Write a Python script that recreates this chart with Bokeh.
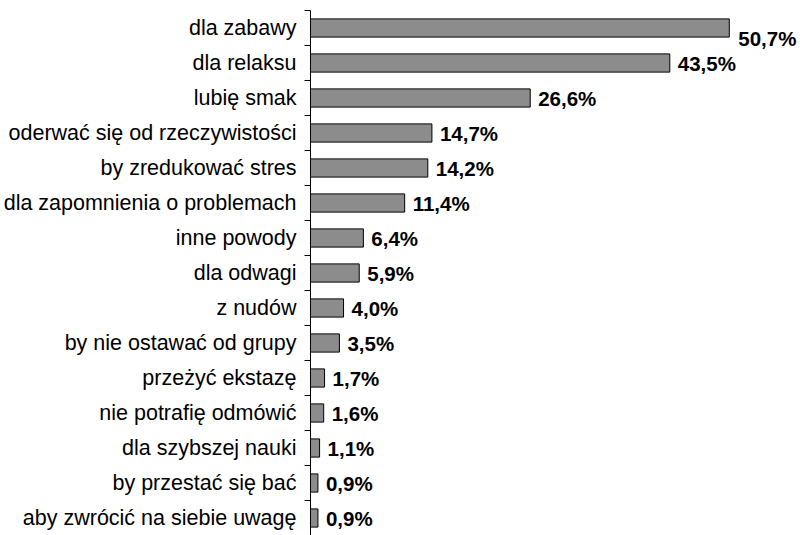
from bokeh.plotting import figure
from bokeh.models import ColumnDataSource, Range1d, FixedTicker
from bokeh.core.properties import value
from bokeh.embed import file_html
from bokeh.resources import INLINE

categories = [
    "dla zabawy",
    "dla relaksu",
    "lubię smak",
    "oderwać się od rzeczywistości",
    "by zredukować stres",
    "dla zapomnienia o problemach",
    "inne powody",
    "dla odwagi",
    "z nudów",
    "by nie ostawać od grupy",
    "przeżyć ekstazę",
    "nie potrafię odmówić",
    "dla szybszej nauki",
    "by przestać się bać",
    "aby zwrócić na siebie uwagę",
]
percent = [50.7, 43.5, 26.6, 14.7, 14.2, 11.4, 6.4, 5.9, 4.0, 3.5, 1.7, 1.6, 1.1, 0.9, 0.9]

n = len(categories)
ys = [i + 0.5 for i in range(n)]
labels = [f"{v:.1f}".replace(".", ",") + "%" for v in percent]

src = ColumnDataSource(dict(y=ys, v=percent, lab=labels, cat=categories))
top_src = ColumnDataSource(dict(y=ys[:1], v=percent[:1], lab=labels[:1]))
rest_src = ColumnDataSource(dict(y=ys[1:], v=percent[1:], lab=labels[1:]))

p = figure(width=800, height=535, output_backend="svg", toolbar_location=None,
           x_range=Range1d(0, 59.08), y_range=Range1d(n, 0),
           min_border_left=310, min_border_top=10, min_border_bottom=0, min_border_right=2)
p.xaxis.visible = False
p.grid.visible = False
p.outline_line_color = None
p.background_fill_color = "white"
p.border_fill_color = "white"

p.hbar(y="y", left=0, right="v", height=0.52, source=src,
       fill_color="#8c8c8c", line_color="black", line_width=1)

common = dict(x="v", y="y", text="lab", text_font=value("Liberation Sans"),
              text_font_style="bold", text_font_size="20.5px", text_color="black",
              text_baseline="middle", text_align="left")
p.text(source=rest_src, x_offset=8, **common)
p.text(source=top_src, x_offset=9, y_offset=10, **common)

ax = p.yaxis[0]
ax.ticker = FixedTicker(ticks=ys, minor_ticks=list(range(n + 1)))
ax.major_label_overrides = {y: c for y, c in zip(ys, categories)}
ax.major_tick_line_color = None
ax.major_tick_out = 0
ax.major_tick_in = 0
ax.minor_tick_out = 6
ax.minor_tick_in = 0
ax.minor_tick_line_color = "black"
ax.axis_line_color = "black"
ax.major_label_standoff = 8
ax.major_label_text_font = "Liberation Sans"
ax.major_label_text_font_size = "21.5px"
ax.major_label_text_color = "black"

open("out.html", "w").write(file_html(p, INLINE))
